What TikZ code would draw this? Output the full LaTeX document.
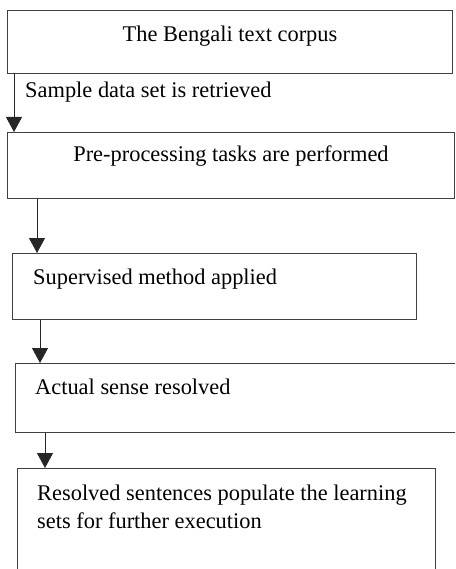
\documentclass[tikz,border=0pt]{standalone}
\usepackage{fontspec}
\setmainfont{Liberation Serif}
\usetikzlibrary{arrows.meta, positioning}
\tikzset{
  stage/.style={draw=black!75, line width=1pt, rectangle, inner sep=0pt, anchor=north west},
  flow/.style={draw=black!85, line width=0.9pt, -{Triangle[width=16pt,length=15pt]}},
  steptext/.style={font=\fontsize{22.4pt}{28pt}\selectfont, inner sep=0pt},
}

\begin{document}
\begin{tikzpicture}[x=1pt, y=-1pt]
        \clip (0,0) rectangle (455,569);
        % Boxes
        \node[stage, minimum width=445pt, minimum height=63pt] (corpus) at (7,10) {};
        \node[stage, minimum width=447pt, minimum height=66pt] (pre) at (7,132) {};
        \node[stage, minimum width=404pt, minimum height=66pt] (method) at (12,253) {};
        \node[stage, minimum width=460pt, minimum height=69pt] (sense) at (15,363) {};
        \node[stage, minimum width=418pt, minimum height=140pt] (learn) at (17,468) {};

        % Texts
        \node[steptext, anchor=base] (corpustxt) at ([yshift=-32pt]corpus.north) {The Bengali text corpus};
        \node[steptext, anchor=base west] (sample) at ([xshift=18pt,yshift=-24pt]corpus.south west) {Sample data set is retrieved};
        \node[steptext, anchor=base] (pretxt) at ([yshift=-30pt]pre.north) {Pre-processing tasks are performed};
        \node[steptext, anchor=base west] (methodtxt) at ([xshift=21pt,yshift=-31pt]method.north west) {Supervised method applied};
        \node[steptext, anchor=base west] (sensetxt) at ([xshift=20pt,yshift=-31pt]sense.north west) {Actual sense resolved};
        \node[steptext, anchor=north west, align=left] (learntxt) at ([xshift=20pt,yshift=-17pt]learn.north west) {Resolved sentences populate the learning\\sets for further execution};

        % Arrows
        \draw[flow] ([xshift=7pt]corpus.south west) -- ([xshift=7pt]corpus.south west |- pre.north);
        \draw[flow] ([xshift=30pt]pre.south west) -- ([xshift=30pt]pre.south west |- method.north);
        \draw[flow] ([xshift=28pt]method.south west) -- ([xshift=28pt]method.south west |- sense.north);
        \draw[flow] ([xshift=30pt]sense.south west) -- ([xshift=30pt]sense.south west |- learn.north);
    \end{tikzpicture}
\end{document}
